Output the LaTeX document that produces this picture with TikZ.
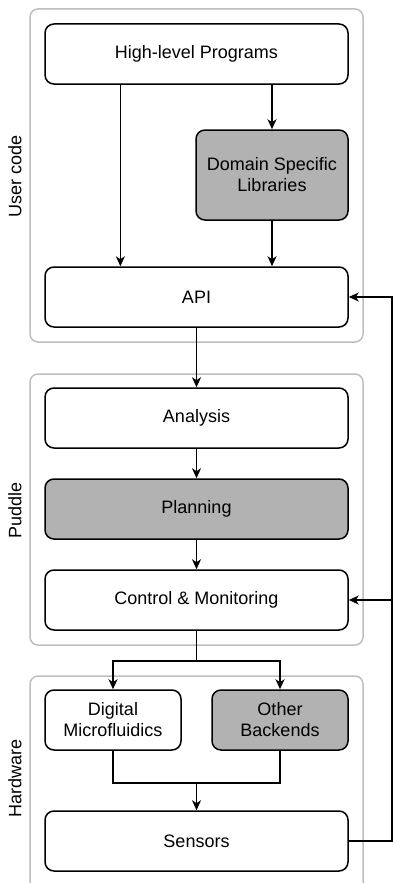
\documentclass[tikz,border=0pt]{standalone}
\usepackage{fontspec}
\setmainfont{Liberation Sans}
\usetikzlibrary{arrows.meta,calc}

\tikzset{
  box/.style={draw,line width=1.5pt,rounded corners=9pt,minimum height=60pt,
    inner sep=0pt,align=center,font=\fontsize{18}{21}\selectfont},
  wide/.style={box,minimum width=303pt},
  half/.style={box,minimum width=136pt},
  shaded/.style={fill=black!30},
  group/.style={draw=black!25,line width=1.5pt,rounded corners=8pt},
  grouplabel/.style={rotate=90,font=\fontsize{18}{21}\selectfont},
}

\begin{document}
\begin{tikzpicture}[x=1pt,y=-1pt,>={Stealth[length=10pt,width=9pt,inset=3pt]},line width=1.5pt]

\useasboundingbox (0,0) rectangle (393,883);

% groups
\draw[group] (30,9) rectangle (363,342);
\draw[group] (30,374) rectangle (363,645);
\draw[group] (30,883) -- (30,676) -- (363,676) -- (363,883);

\node[grouplabel] at (15,176) {User code};
\node[grouplabel] at (15,510) {Puddle};
\node[grouplabel] at (15,778) {Hardware};

% user code
\node[wide] (hlp) at (196.5,54) {High-level Programs};
\node[box,shaded,minimum width=152pt,minimum height=90pt] (dsl) at (272,175) {Domain Specific\\Libraries};
\node[wide] (api) at (196.5,297) {API};

\coordinate (left) at ($(hlp.south west)!.25!(hlp.south east)$);
\draw[->] (left) -- (left |- api.north);
\draw[->] (hlp.south -| dsl) -- (dsl.north);
\draw[->] (dsl.south) -- (dsl |- api.north);

% puddle
\node[wide] (analysis) at (196.5,418) {Analysis};
\node[wide,shaded] (planning) at (196.5,509) {Planning};
\node[wide] (control) at (196.5,600) {Control \& Monitoring};

\draw[->] (api) -- (analysis);
\draw[->] (analysis) -- (planning);
\draw[->] (planning) -- (control);

% hardware
\node[half] (dmf) at (113,720) {Digital\\Microfluidics};
\node[half,shaded] (other) at (280,720) {Other\\Backends};
\node[wide] (sensors) at (196.5,841) {Sensors};

\draw[->] (control.south) -- ++(0,30) -| (dmf.north);
\draw[->] (control.south) -- ++(0,30) -| (other.north);
\draw[->] (dmf.south) -- ++(0,32) -| (sensors.north);
\draw (other.south) -- ++(0,32) -| (sensors.north);

% feedback
\coordinate (fb) at (392,841);
\draw[->] (sensors.east) -- (fb) |- (api.east);
\draw[->] (fb |- control.east) -- (control.east);

\end{tikzpicture}
\end{document}
